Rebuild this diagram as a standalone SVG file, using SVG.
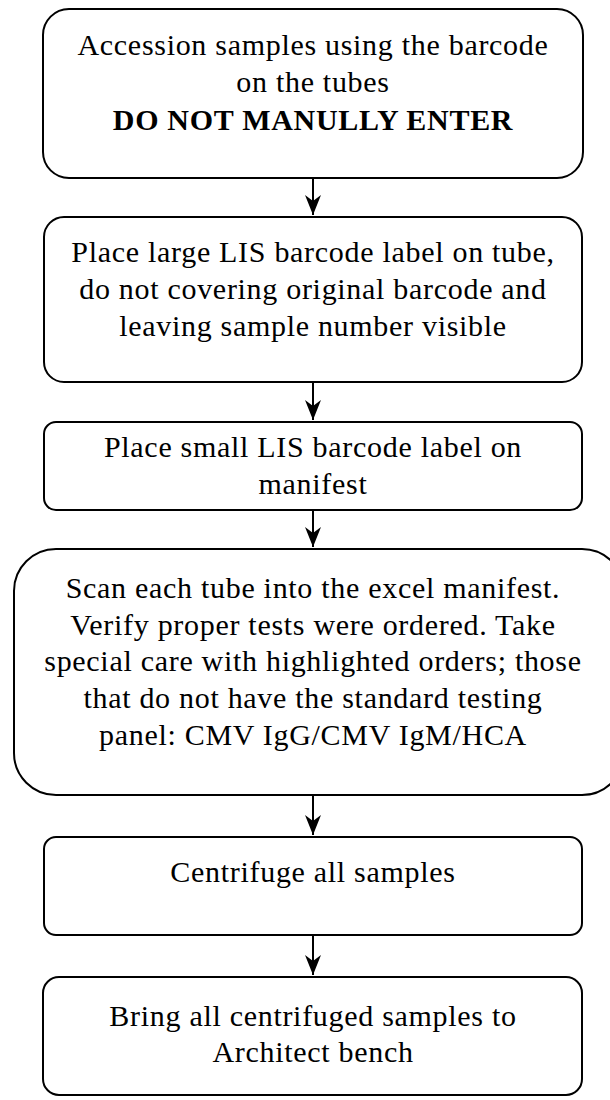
<svg xmlns="http://www.w3.org/2000/svg" width="610" height="1100" viewBox="0 0 610 1100">
<style>
.box{fill:#fff;stroke:#000;stroke-width:2}
.t{font-family:'Liberation Serif','Times New Roman',Times,serif;font-size:30px;letter-spacing:0.7px;fill:#000;text-anchor:middle}
.b{font-weight:bold}
.c{stroke:#000;stroke-width:2;fill:none}
</style>
<defs>
<marker id="ah" viewBox="0 0 20 16" refX="20" refY="8" markerWidth="20" markerHeight="16" markerUnits="userSpaceOnUse" orient="auto">
<path d="M0,0 L6,8 L0,16 L20,8 Z" fill="#000"/>
</marker>
</defs>
<rect width="610" height="1100" fill="#fff"/>
<g id="connectors">
<path class="c" d="M313,178 V215" marker-end="url(#ah)"/>
<path class="c" d="M313,382 V420" marker-end="url(#ah)"/>
<path class="c" d="M313,510 V547" marker-end="url(#ah)"/>
<path class="c" d="M313,795 V835" marker-end="url(#ah)"/>
<path class="c" d="M313,935 V975" marker-end="url(#ah)"/>
</g>
<g id="n1">
<rect class="box" x="43" y="9" width="540" height="169" rx="26"/>
<text class="t" x="313" y="55">Accession samples using the barcode</text>
<text class="t" x="313" y="92">on the tubes</text>
<text class="t b" x="313" y="130">DO NOT MANULLY ENTER</text>
</g>
<g id="n2">
<rect class="box" x="44" y="217" width="538" height="165" rx="20"/>
<text class="t" x="313" y="262">Place large LIS barcode label on tube,</text>
<text class="t" x="313" y="299">do not covering original barcode and</text>
<text class="t" x="313" y="336">leaving sample number visible</text>
</g>
<g id="n3">
<rect class="box" x="44" y="422" width="538" height="88" rx="12"/>
<text class="t" x="313" y="457">Place small LIS barcode label on</text>
<text class="t" x="313" y="494">manifest</text>
</g>
<g id="n4">
<rect class="box" x="14" y="549" width="610" height="246" rx="42"/>
<text class="t" x="313" y="598">Scan each tube into the excel manifest.</text>
<text class="t" x="313" y="635">Verify proper tests were ordered. Take</text>
<text class="t" x="313" y="671">special care with highlighted orders; those</text>
<text class="t" x="313" y="708">that do not have the standard testing</text>
<text class="t" x="313" y="745">panel: CMV IgG/CMV IgM/HCA</text>
</g>
<g id="n5">
<rect class="box" x="44" y="837" width="538" height="98" rx="12"/>
<text class="t" x="313" y="882">Centrifuge all samples</text>
</g>
<g id="n6">
<rect class="box" x="43" y="977" width="539" height="118" rx="16"/>
<text class="t" x="313" y="1026">Bring all centrifuged samples to</text>
<text class="t" x="313" y="1062">Architect bench</text>
</g>
</svg>
